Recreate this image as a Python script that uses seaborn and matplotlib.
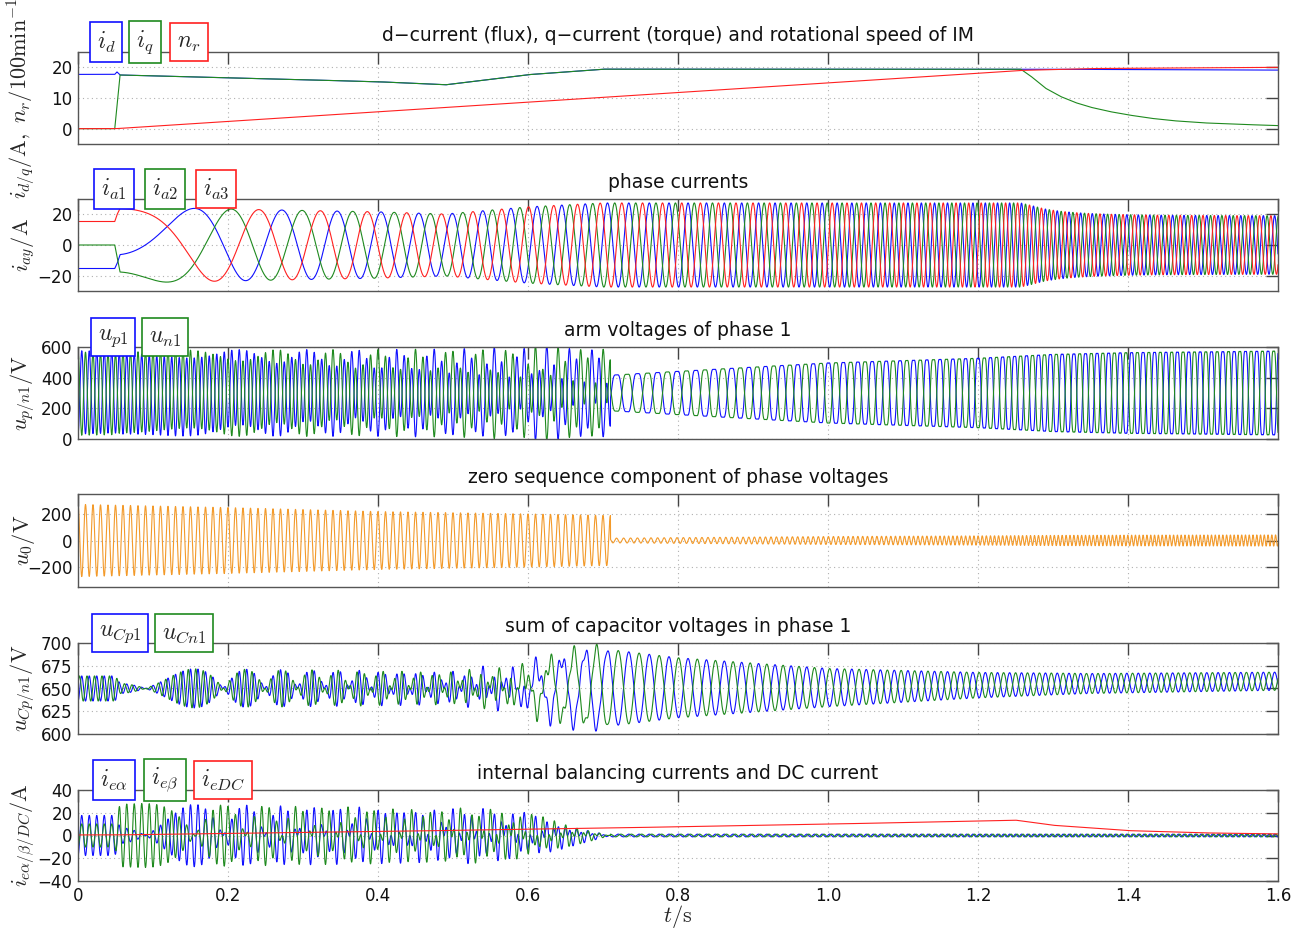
import numpy as np
import pandas as pd
import matplotlib
matplotlib.use("Agg")
import matplotlib.pyplot as plt
import seaborn as sns

# ---- values ------------------------------------------------------------
t_end = 1.6
dt = 1e-4

# panel 1: d/q current and speed, breakpoints
id_t = [0.0, 0.049, 0.052, 0.056, 0.20, 0.40, 0.49, 0.60, 0.70, 1.257, 1.6]
id_val = [17.7, 17.7, 18.5, 17.5, 16.6, 15.3, 14.3, 17.6, 19.4, 19.4, 19.1]
iq_t = [0.0, 0.049, 0.056, 0.20, 0.40, 0.49, 0.60, 0.70, 1.257, 1.27, 1.28,
        1.29, 1.31, 1.33, 1.35, 1.375, 1.40, 1.43, 1.46, 1.50, 1.55, 1.6]
iq_val = [0.0, 0.0, 17.5, 16.6, 15.3, 14.3, 17.6, 19.4, 19.4, 17.2, 15.2,
          13.2, 10.5, 8.5, 7.0, 5.6, 4.5, 3.4, 2.6, 1.9, 1.4, 1.0]
nr_t = [0.0, 0.05, 1.257, 1.35, 1.6]
nr_val = [0.0, 0.0, 19.0, 19.6, 20.0]
pole_pairs = 2
theta0_deg = 210          # current vector angle before start-up

# panels 3/4: arm voltage / zero sequence envelopes
u_dc_half = 300
u0_t = [0.0, 0.2, 0.4, 0.6, 0.71]
u0_amp = [272, 248, 218, 200, 188]
u0_freq = 100
vout_t = [0.0, 0.05, 0.3, 0.5, 0.71, 0.8, 1.0, 1.2, 1.3, 1.4, 1.6]
vout_amp = [8, 12, 50, 80, 133, 162, 225, 260, 289, 302, 314]
third_ratio = 1 / 7.5
switch_time = 0.71

# panel 5: capacitor voltage sums
uc_mid_t = [0.0, 1.0, 1.3, 1.6]
uc_mid = [650, 651, 655, 658]
uc_hf_t = [0.0, 0.55, 0.63, 0.70, 0.71]
uc_hf_gain = [0.9, 0.9, 0.5, 0.2, 0.0]
uc_lf_t = [0.0, 0.50, 0.58, 0.63, 0.68, 0.71, 0.8, 1.0, 1.2, 1.35, 1.6]
uc_lf_amp = [0, 0, 8, 30, 42, 42, 33, 21, 14, 11, 10]

# panel 6: balancing currents
ie_t = [0.0, 0.52, 0.60, 0.66, 0.71]
ie_gain = [1.15, 1.15, 0.8, 0.35, 0.0]
ie_ripple = 1.2
idc_t = [0.0, 0.05, 0.4, 0.7, 1.0, 1.25, 1.3, 1.4, 1.5, 1.6]
idc_val = [0.5, 0.5, 3.5, 6.5, 10.0, 13.5, 9.0, 4.3, 2.3, 1.4]

titles = ["d\u2212current (flux), q\u2212current (torque) and rotational speed of IM",
          "phase currents",
          "arm voltages of phase 1",
          "zero sequence component of phase voltages",
          "sum of capacitor voltages in phase 1",
          "internal balancing currents and DC current"]
ylabels = [r"$i_{d/q}/\mathrm{A},\ n_r/100\mathrm{min}^{-1}$",
           r"$i_{ay}/\mathrm{A}$",
           r"$u_{p/n1}/\mathrm{V}$",
           r"$u_0/\mathrm{V}$",
           r"$u_{Cp/n1}/\mathrm{V}$",
           r"$i_{e\alpha/\beta/DC}/\mathrm{A}$"]
names = [[r"$i_d$", r"$i_q$", r"$n_r$"],
         [r"$i_{a1}$", r"$i_{a2}$", r"$i_{a3}$"],
         [r"$u_{p1}$", r"$u_{n1}$"],
         [r"$u_0$"],
         [r"$u_{Cp1}$", r"$u_{Cn1}$"],
         [r"$i_{e\alpha}$", r"$i_{e\beta}$", r"$i_{eDC}$"]]
yticks = [[0, 10, 20], [-20, 0, 20], [0, 200, 400, 600], [-200, 0, 200],
          [600, 625, 650, 675, 700], [-40, -20, 0, 20, 40]]
ylims = [(-5, 25), (-30, 30), (0, 600), (-350, 350), (600, 700), (-40, 40)]
xticks = [0, 0.2, 0.4, 0.6, 0.8, 1.0, 1.2, 1.4, 1.6]
xticklabels = ["0", "0.2", "0.4", "0.6", "0.8", "1.0", "1.2", "1.4", "1.6"]

# ---- signals built from the breakpoints --------------------------------
t = np.arange(0, t_end + dt / 2, dt)
i_d = np.interp(t, id_t, id_val)
i_q = np.interp(t, iq_t, iq_val)
n_r = np.interp(t, nr_t, nr_val)
f_el = pole_pairs * n_r * 100 / 60
theta = np.deg2rad(theta0_deg) + 2 * np.pi * np.cumsum(f_el) * dt + np.arctan2(i_q, i_d)
amp = np.hypot(i_d, i_q)
i_a1 = amp * np.cos(theta)
i_a2 = amp * np.cos(theta - 2 * np.pi / 3)
i_a3 = amp * np.cos(theta - 4 * np.pi / 3)

carrier = 2 * np.pi * u0_freq * t
after = t >= switch_time
th_v = theta + np.pi / 6
a_v = np.interp(t, vout_t, vout_amp)
v1 = a_v * np.cos(th_v)
u0 = np.where(after, -third_ratio * a_v * np.cos(3 * th_v),
              np.interp(t, u0_t, u0_amp) * np.cos(carrier))
u_p1 = u_dc_half - (v1 + u0)
u_n1 = u_dc_half + (v1 + u0)

g_hf = np.interp(t, uc_hf_t, uc_hf_gain)
a_lf = np.interp(t, uc_lf_t, uc_lf_amp)
mid = np.interp(t, uc_mid_t, uc_mid)
u_cp = mid + g_hf * i_a1 * np.cos(carrier) + a_lf * np.cos(theta)
u_cn = mid + g_hf * i_a1 * np.cos(carrier + 0.6 * np.pi) - a_lf * np.cos(theta)

i_alpha = i_a1
i_beta = (i_a2 - i_a3) / np.sqrt(3)
g_e = np.interp(t, ie_t, ie_gain)
i_ea = g_e * i_alpha * np.cos(carrier) + after * ie_ripple * np.cos(2 * theta)
i_eb = g_e * i_beta * np.cos(carrier) + after * ie_ripple * np.sin(2 * theta)
i_edc = np.interp(t, idc_t, idc_val)

series = [[i_d, i_q, n_r], [i_a1, i_a2, i_a3], [u_p1, u_n1], [u0],
          [u_cp, u_cn], [i_ea, i_eb, i_edc]]
blue, green, red, orange = "#1010ff", "#1f8a1f", "#ff2020", "#f39a2a"
colors = [[blue, green, red], [blue, green, red], [blue, green], [orange],
          [blue, green], [blue, green, red]]

# ---- figure --------------------------------------------------------------
sns.set_style("white")
plt.rcParams["font.family"] = ["DejaVu Sans"]
plt.rcParams["mathtext.fontset"] = "cm"

W, H = 1314, 935
fig = plt.figure(figsize=(W / 100, H / 100), dpi=100)
panel_top = [52, 199, 347, 494, 643, 790]
panel_h = [92, 92, 92, 93, 91, 91]
box_x = [[106, 145, 189], [114, 165, 216], [113, 165], [],
         [120, 184], [114, 165, 223]]

for k in range(6):
    ax = fig.add_axes([78 / W, (H - panel_top[k] - panel_h[k]) / H, 1200 / W, panel_h[k] / H])
    frames = [pd.DataFrame({"t": t, "v": y, "s": str(j)}) for j, y in enumerate(series[k])]
    df = pd.concat(frames, ignore_index=True)
    sns.lineplot(data=df, x="t", y="v", hue="s", palette=colors[k], estimator=None,
                 legend=False, linewidth=0.8, ax=ax, sort=False)
    ax.set_xlim(0, t_end)
    ax.set_ylim(*ylims[k])
    ax.set_xticks(xticks)
    ax.set_yticks(yticks[k])
    ax.grid(True, linestyle=(0, (1, 3)), color="#b0b0b0", linewidth=0.8)
    ax.tick_params(direction="in", length=8.5, width=1.0, top=True, right=True,
                   color="#444444", labelsize=12, labelcolor="#111111", pad=4)
    for sp in ax.spines.values():
        sp.set_color("#555555")
        sp.set_linewidth(1.0)
    if k == 5:
        ax.set_xticklabels(xticklabels)
        ax.set_xlabel(r"$t/\mathrm{s}$", fontsize=16, labelpad=-1)
    else:
        ax.set_xticklabels([])
        ax.set_xlabel("")
    ax.set_ylabel(ylabels[k], fontsize=16)
    ax.yaxis.set_label_coords(-0.034, 0.5)
    ax.set_title(titles[k], fontsize=13.5, pad=8, color="#111111")
    for j, xc in enumerate(box_x[k]):
        ax.text((xc - 78) / 1200, 1 + 10 / panel_h[k], names[k][j], fontsize=17,
                ha="center", va="center", transform=ax.transAxes, zorder=5,
                bbox=dict(boxstyle="square,pad=0.3", fc="white", ec=colors[k][j], lw=1.2))

fig.savefig("out.png", dpi=100)
